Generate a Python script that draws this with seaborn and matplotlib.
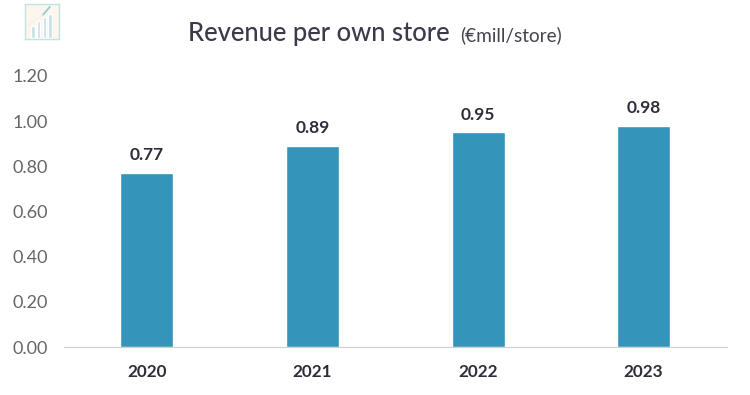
import matplotlib
matplotlib.use("Agg")
import matplotlib.pyplot as plt
import pandas as pd
import seaborn as sns

years = ["2020", "2021", "2022", "2023"]
revenue = [0.77, 0.89, 0.95, 0.98]
yticks = [0.0, 0.2, 0.4, 0.6, 0.8, 1.0, 1.2]

# little decorative logo in the top left corner
icon_bars = [12, 17, 21, 24]
icon_trend_x = [-0.85, 0.5, 1.8, 3.0]
icon_trend_y = [12, 18, 23, 31]

sns.set_style("white")
plt.rcParams['font.family'] = ['Lato', 'DejaVu Sans']

df = pd.DataFrame({"year": years, "revenue": revenue})

fig = plt.figure(figsize=(7.5, 3.95), dpi=100)
ax = fig.add_axes([64 / 750, 1 - 347 / 395, 662.5 / 750, (347 - 76) / 395])
sns.barplot(data=df, x="year", y="revenue", color="#3494BA", width=0.32, saturation=1, ax=ax)
ax.set_ylim(0, 1.2)
ax.set_xlim(-0.5, 3.5)
ax.set_yticks(yticks)
ax.set_yticklabels(["{:.2f}".format(t) for t in yticks], fontsize=13, color="#666666")
ax.set_xlabel("")
ax.set_ylabel("")
ax.tick_params(axis="x", length=0, pad=12.5, labelsize=12.3, labelcolor="#2E2E3A")
ax.tick_params(axis="y", length=0, pad=11.5)
for lab in ax.get_xticklabels():
    lab.set_fontweight("bold")
sns.despine(ax=ax, left=True)
ax.spines["bottom"].set_color("#D0D0D0")

for i, v in enumerate(revenue):
    ax.annotate("{:.2f}".format(v), (i, v), xytext=(0, 7), textcoords="offset points",
                ha="center", va="bottom", fontsize=12.5, fontweight="bold", color="#2E2E3A")

fig.text(188 / 750, 1 - 34 / 395, "Revenue per own store", fontsize=18.4, fontweight="medium",
         color="#3A3A4A", va="center")
fig.text(460 / 750, 1 - 35 / 395, "(€mill/store)", fontsize=13.7, color="#44444F", va="center")

# logo
icon = fig.add_axes([25 / 750, 1 - 39 / 395, 34 / 750, 35 / 395])
icon.set_facecolor("#FDF6EC")
icon_df = pd.DataFrame({"pos": ["a", "b", "c", "d"], "h": icon_bars})
sns.barplot(data=icon_df, x="pos", y="h", color="#C4E2E4", width=0.62, saturation=1, ax=icon)
icon.plot(icon_trend_x, icon_trend_y, color="#F3F3EC", linewidth=1.2)
icon.plot(icon_trend_x[-2:], icon_trend_y[-2:], color="#8CCBD6", linewidth=1.2)
icon.set_xlim(-1.4, 4.6)
icon.set_ylim(-1.3, 33.7)
icon.set_xticks([])
icon.set_yticks([])
icon.set_xlabel("")
icon.set_ylabel("")
for s in icon.spines.values():
    s.set_color("#BFE3E6")
    s.set_linewidth(1.0)

fig.savefig("out.png", dpi=100)
